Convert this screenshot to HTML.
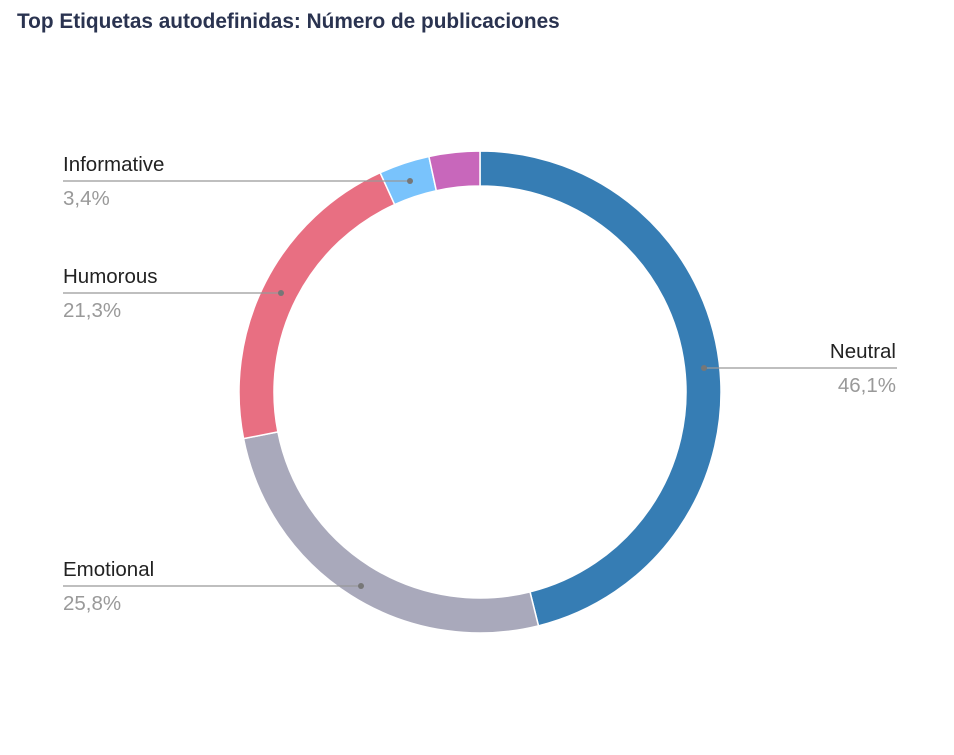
<!DOCTYPE html>
<html><head><meta charset="utf-8"><style>
body{margin:0;background:#fff;width:954px;height:750px;overflow:hidden;font-family:"Liberation Sans",sans-serif}
</style></head><body>
<svg width="954" height="750" xmlns="http://www.w3.org/2000/svg" id="s">
<text x="17" y="28" font-size="20.8" font-weight="bold" fill="#2a3350">Top Etiquetas autodefinidas: Número de publicaciones</text>
<g id="ring"></g>
<g font-size="20.5">
<line x1="63" y1="181" x2="410" y2="181" stroke="#999" stroke-width="1.2"/><circle cx="410" cy="181" r="3" fill="#777"/>
<text x="63" y="171" fill="#222">Informative</text><text x="63" y="205" fill="#999">3,4%</text>
<line x1="63" y1="293" x2="281" y2="293" stroke="#999" stroke-width="1.2"/><circle cx="281" cy="293" r="3" fill="#777"/>
<text x="63" y="283" fill="#222">Humorous</text><text x="63" y="317" fill="#999">21,3%</text>
<line x1="63" y1="586" x2="361" y2="586" stroke="#999" stroke-width="1.2"/><circle cx="361" cy="586" r="3" fill="#777"/>
<text x="63" y="576" fill="#222">Emotional</text><text x="63" y="610" fill="#999">25,8%</text>
<line x1="704" y1="368" x2="897" y2="368" stroke="#999" stroke-width="1.2"/><circle cx="704" cy="368" r="3" fill="#777"/>
<text x="896" y="358" fill="#222" text-anchor="end">Neutral</text><text x="896" y="392" fill="#999" text-anchor="end">46,1%</text>
</g>
</svg>
<script>
var cx=480,cy=392,R=241,r=206;
var d=[[46.1,"#367db4"],[25.8,"#a9a9bb"],[21.3,"#e86f82"],[3.4,"#79c3fc"],[3.4,"#c867bb"]];
var a=0,g=document.getElementById("ring"),h="";
function p(rad,ang){return [cx+rad*Math.sin(ang),cy-rad*Math.cos(ang)];}
d.forEach(function(s){var a2=a+s[0]/100*2*Math.PI;var L=(a2-a)>Math.PI?1:0;
var p1=p(R,a),p2=p(R,a2),p3=p(r,a2),p4=p(r,a);
h+='<path d="M'+p1+' A'+R+','+R+' 0 '+L+' 1 '+p2+' L'+p3+' A'+r+','+r+' 0 '+L+' 0 '+p4+' Z" fill="'+s[1]+'" stroke="#fff" stroke-width="1.5"/>';a=a2;});
g.innerHTML=h;
</script>
</body></html>
